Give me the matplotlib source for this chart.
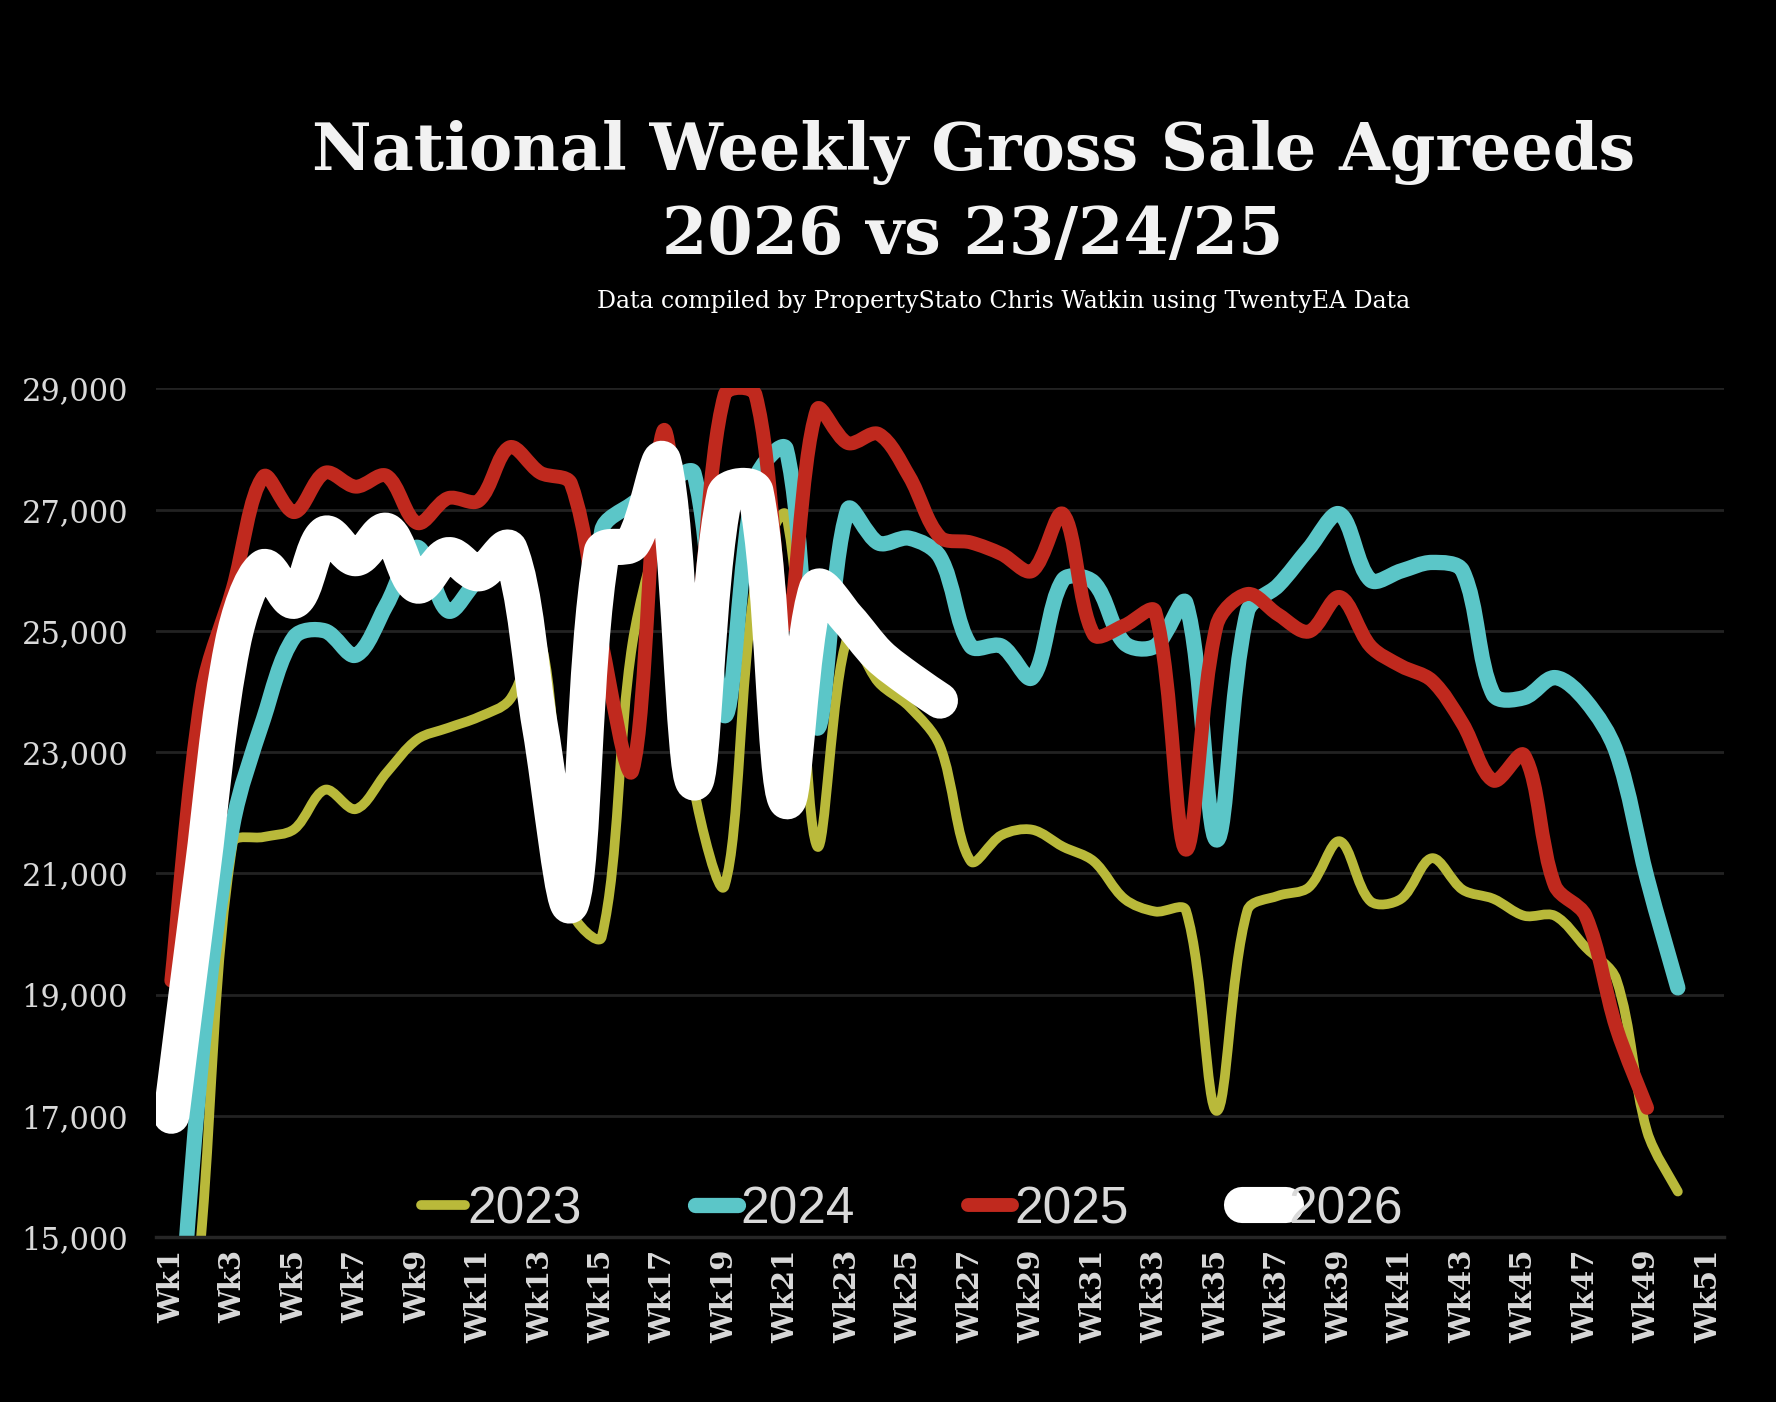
import matplotlib
matplotlib.use("Agg")
import matplotlib.pyplot as plt
from matplotlib.path import Path
from matplotlib.patches import PathPatch
from matplotlib.lines import Line2D
from matplotlib.ticker import FuncFormatter

# week categories on the x axis
weeks = ["Wk%d" % i for i in range(1, 52)]

# weekly gross sale agreed counts
sa_2023 = [9000, 15200, 21500, 21600, 21730, 22380, 22060, 22660, 23210, 23400,
           23580, 23860, 24850, 20400, 19950, 24800, 26500, 22400, 20800, 25800,
           26900, 21450, 24900, 24150, 23750, 23100, 21200, 21630, 21720, 21440,
           21200, 20580, 20370, 20390, 17080, 20390, 20630, 20770, 21530, 20540,
           20580, 21250, 20730, 20580, 20300, 20300, 19780, 19250, 16740, 15750]
sa_2024 = [11500, 18000, 21800, 23550, 24900, 25000, 24600, 25430, 26380, 25330,
           25850, 26100, 23800, 20800, 26650, 27100, 27400, 27600, 23600, 27500,
           28000, 23400, 27000, 26450, 26530, 26220, 24750, 24750, 24230, 25840,
           25800, 24800, 24750, 25460, 21550, 25320, 25750, 26360, 26930, 25840,
           25990, 26130, 25990, 23950, 23900, 24230, 23850, 23000, 20920, 19110]
sa_2025 = [19230, 24000, 25700, 27550, 26960, 27610, 27380, 27560, 26780, 27190,
           27150, 28030, 27610, 27430, 24800, 22700, 28300, 25200, 28900, 28900,
           25100, 28650, 28100, 28250, 27550, 26550, 26460, 26270, 25990, 26930,
           24940, 25090, 25320, 21390, 25090, 25610, 25270, 24990, 25560, 24750,
           24420, 24180, 23470, 22530, 22950, 20800, 20300, 18450, 17130]
sa_2026 = [17000, 21000, 24800, 26050, 25500, 26600, 26200, 26650, 25750, 26250,
           25950, 26350, 23400, 20500, 26300, 26450, 27800, 22500, 27250, 27300,
           22200, 25700, 25200, 24600, 24200, 23850]

series = [("2023", sa_2023, "#b9b93a", 7),
          ("2024", sa_2024, "#5bc6c8", 11),
          ("2025", sa_2025, "#c0291e", 10),
          ("2026", sa_2026, "#ffffff", 26)]

y_ticks = [15000, 17000, 19000, 21000, 23000, 25000, 27000, 29000]

# rough screen size of one week and of one sale, used to weigh the smoothing
WEEK_PX = 30.8
SALE_PX = 0.0606


# smoothed line like the spreadsheet one: bezier segments through every point,
# tangents shortened next to long jumps so the knees do not overshoot
def smooth_path(ys):
    xs = list(range(1, len(ys) + 1))
    n = len(ys)

    def dist(i, j):
        return (((xs[j] - xs[i]) * WEEK_PX) ** 2 + ((ys[j] - ys[i]) * SALE_PX) ** 2) ** 0.5

    def tangent(i, side):
        a = max(i - 1, 0)
        b = min(i + 1, n - 1)
        da = dist(a, i) if a != i else 0
        db = dist(i, b) if b != i else 0
        tot = da + db
        if tot == 0:
            return 0, 0
        w = (db if side > 0 else da) / tot / 3
        if a == i or b == i:
            w = 1 / 3 * 0.5
        return (xs[b] - xs[a]) * w, (ys[b] - ys[a]) * w

    verts = [(xs[0], ys[0])]
    codes = [Path.MOVETO]
    for i in range(n - 1):
        tx1, ty1 = tangent(i, 1)
        tx2, ty2 = tangent(i + 1, -1)
        verts += [(xs[i] + tx1, ys[i] + ty1), (xs[i + 1] - tx2, ys[i + 1] - ty2),
                  (xs[i + 1], ys[i + 1])]
        codes += [Path.CURVE4] * 3
    return Path(verts, codes)


fig = plt.figure(figsize=(17.76, 14.02), dpi=100, facecolor="black")
ax = fig.add_axes([0.0878, 0.1177, 0.8829, 0.6052])
ax.set_facecolor("black")

for label, vals, color, lw in series:
    ax.add_patch(PathPatch(smooth_path(vals), facecolor="none", edgecolor=color,
                           lw=lw, capstyle="round", joinstyle="round"))

ax.set_xlim(0.5, len(weeks) + 0.5)
ax.set_ylim(15000, 29000)

ax.set_yticks(y_ticks)
ax.yaxis.set_major_formatter(FuncFormatter(lambda v, p: "{:,.0f}".format(v)))
ax.set_xticks(range(1, len(weeks) + 1, 2))
ax.set_xticklabels(weeks[::2], rotation=90, family="DejaVu Serif",
                   fontweight="bold", fontsize=21, color="#d9d9d9")
for t in ax.get_yticklabels():
    t.set_family("DejaVu Serif")
    t.set_fontsize(22)
    t.set_color("#d9d9d9")
ax.tick_params(axis="y", length=0, pad=20)
ax.tick_params(axis="x", length=0, pad=9)

ax.grid(axis="y", color="#222222", lw=2)
ax.set_axisbelow(True)
for s in ["top", "right", "left"]:
    ax.spines[s].set_visible(False)
ax.spines["bottom"].set_color("#262626")
ax.spines["bottom"].set_linewidth(2.5)

handles = [Line2D([], [], color=c, lw=lw, solid_capstyle="round")
           for _, _, c, lw in series]
leg = ax.legend(handles, [s[0] for s in series], loc="center",
                bbox_to_anchor=(0.482, 0.032), ncol=4, frameon=False,
                handlelength=0.85, handletextpad=0.05, columnspacing=2.2,
                prop={"family": "Liberation Sans", "size": 37})
for t in leg.get_texts():
    t.set_color("#d9d9d9")

fig.text(0.548, 0.891, "National Weekly Gross Sale Agreeds", ha="center",
         va="center", family="DejaVu Serif", fontweight="bold", fontsize=47,
         color="#f2f2f2")
fig.text(0.548, 0.832, "2026 vs 23/24/25", ha="center", va="center",
         family="DejaVu Serif", fontweight="bold", fontsize=47, color="#f2f2f2")
fig.text(0.565, 0.785, "Data compiled by PropertyStato Chris Watkin using TwentyEA Data",
         ha="center", va="center", family="DejaVu Serif", fontsize=17,
         color="white")

fig.savefig("out.png", dpi=100, facecolor="black")
